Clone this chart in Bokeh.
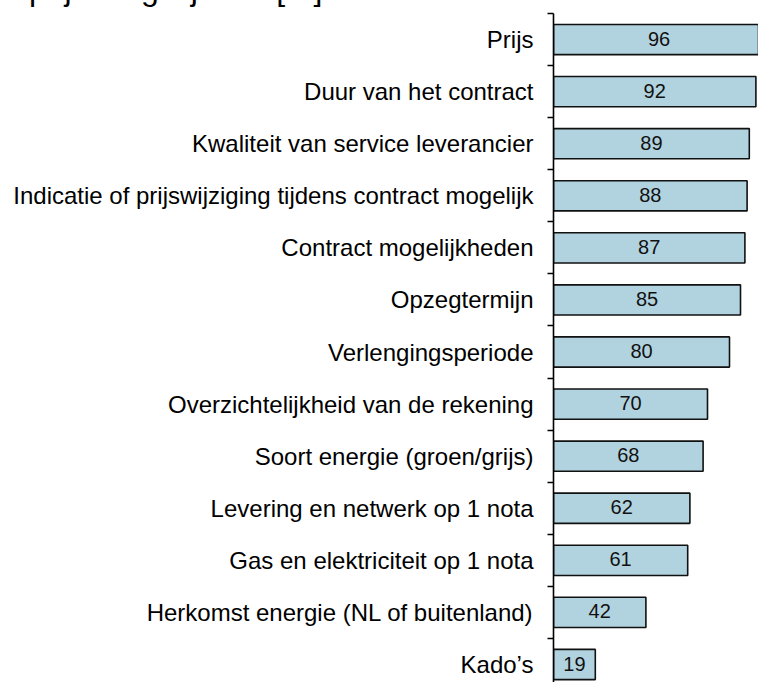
from bokeh.plotting import figure
from bokeh.models import Range1d, LinearAxis, FixedTicker, ColumnDataSource, Div
from bokeh.layouts import column
from bokeh.core.properties import value
from bokeh.embed import file_html
from bokeh.resources import INLINE

categories = [
    "Prijs",
    "Duur van het contract",
    "Kwaliteit van service leverancier",
    "Indicatie of prijswijziging tijdens contract mogelijk",
    "Contract mogelijkheden",
    "Opzegtermijn",
    "Verlengingsperiode",
    "Overzichtelijkheid van de rekening",
    "Soort energie (groen/grijs)",
    "Levering en netwerk op 1 nota",
    "Gas en elektriciteit op 1 nota",
    "Herkomst energie (NL of buitenland)",
    "Kado\u2019s",
]
values = [96, 92, 89, 88, 87, 85, 80, 70, 68, 62, 61, 42, 19]
title_text = "prijs vergelijken? [%]"

n = len(categories)
idx = list(range(n))
src = ColumnDataSource(dict(
    y=idx,
    v=values,
    mid=[v / 2 for v in values],
    lab=[str(v) for v in values],
))

FONT = "Liberation Sans"
W = 758
TH = 8            # title strip (only the descenders of the cut-off title show)
H = 682 - TH
BL, BT = 553, 13 - TH
frame_w = W - BL
frame_h = H - BT
px_per_unit = 2.2
row_px = 52.08

# --- title strip: the title is cut off by the top of the picture ---
title = Div(
    text=(
        '<div style="position:absolute; left:29px; top:-26.6px; '
        "font-family:'Liberation Sans'; font-size:32px; line-height:32px; "
        'white-space:nowrap; color:black;">' + title_text + "</div>"
    ),
    width=W, height=TH, margin=0,
    styles={"overflow": "hidden", "position": "relative"},
)

# --- main chart ---
p = figure(
    width=W, height=H, output_backend="svg", toolbar_location=None,
    x_range=Range1d(0, frame_w / px_per_unit),
    y_range=Range1d(-0.5 + frame_h / row_px, -0.5),
    x_axis_location=None, y_axis_location=None,
    min_border_left=BL, min_border_right=0, min_border_top=BT, min_border_bottom=0,
)
p.outline_line_color = None
p.xgrid.visible = False
p.ygrid.visible = False
p.background_fill_color = "white"
p.border_fill_color = "white"

p.hbar(y="y", left=0, right="v", height=0.58, source=src,
       fill_color="#B1D3DF", line_color="#111111", line_width=1.6)

p.text(x="mid", y="y", text="lab", source=src, text_align="center",
       text_baseline="middle", text_font=value(FONT), text_font_size="20px",
       text_color="#111111", y_offset=-1)

ticker = FixedTicker(ticks=idx, minor_ticks=[i - 0.5 for i in range(n)])
ax = LinearAxis(ticker=ticker)
ax.major_label_overrides = {i: c for i, c in zip(idx, categories)}
ax.major_tick_in = 0
ax.major_tick_out = 0
ax.minor_tick_in = 0
ax.minor_tick_out = 6
ax.minor_tick_line_color = "black"
ax.minor_tick_line_width = 1.6
ax.axis_line_color = "black"
ax.axis_line_width = 1.6
ax.major_label_standoff = 14
ax.major_label_text_font = FONT
ax.major_label_text_font_size = "24px"
ax.major_label_text_color = "black"
p.add_layout(ax, "left")

layout = column(title, p, spacing=0)
open("out.html", "w").write(file_html(layout, INLINE))
